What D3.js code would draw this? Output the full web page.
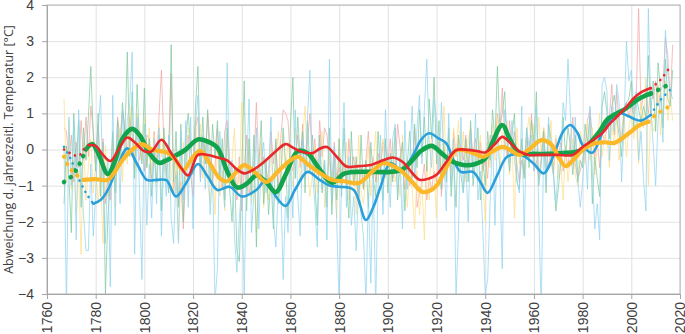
<!DOCTYPE html>
<html>
<head>
<meta charset="utf-8">
<script src="https://cdn.jsdelivr.net/npm/d3@7"></script>
<style>
body { margin: 0; background: #fff; }
svg { display: block; font-family: 'Open Sans', sans-serif; }
</style>
</head>
<body>
<svg id="chart" width="685" height="334"></svg>
<script>
'use strict'

// yearly anomalies, first value = 1767
const firstYear = 1767

const spring = [
	-1.5, 0.1, -0.8,
	-2.3, 1.0, -0.5, 0.8, -1.6, 0.6, -0.3, 0.9, 2.3, 0.4,
	-0.6, 1.0, -1.3, 0.2, -4.0, -1.9, -0.9, 0.5, -1.2, 0.8,
	-0.3, 1.3, 0.4, 2.7, -0.2, 1.6, -0.8, 1.8, 0.2, -0.4,
	1.7, -0.5, 0.3, -1.3, -0.1, -0.9, 0.4, -1.7, 0.6, -0.6,
	-1.2, 2.9, -0.9, 0.5, -1.6, 0.7, -2.0, 0.3, 1.0, 0.1,
	-0.7, 1.2, 2.3, -0.5, 0.9, -0.4, 1.1, -0.9, 0.7, -0.2,
	0.8, -0.8, 0.3, -1.4, 0.6, -1.1, -2.0, -0.5, -2.8, -3.1,
	-0.6, 1.9, -1.7, 0.3, -1.3, 0.4, -2.7, -0.5, 0.8, -1.5,
	-0.3, -1.8, -0.8, -2.2, 0.3, -1.5, -0.9, 0.6, -0.4, -1.9,
	0.7, 2.0, -0.8, 0.9, -0.3, 0.5, -1.2, 0.8, -0.6, 0.4,
	-0.9, -2.1, 0.4, -1.2, -0.3, -1.6, 0.6, -1.8, -0.2, -1.4,
	0.3, -1.3, 0.6, -0.9, -1.9, 0.5, -1.0, -0.2, -1.5, 0.4,
	-1.1, -0.3, -1.6, 0.2, -0.8, -1.3, 0.5, -0.6, -1.4, 0.3,
	-1.2, -0.1, -0.9, 0.6, -1.4, -0.3, 0.2, -1.7, -0.4, 0.5,
	-0.8, 0.7, -0.5, 1.1, -0.2, 0.9, -0.6, 1.4, 0.3, 2.0,
	-0.4, 0.8, -1.1, 0.2, -0.9, 0.6, -1.3, -0.2, -1.6, 0.4,
	-0.7, -1.2, 0.3, -0.9, 0.8, -1.0, -0.3, 0.6, -1.4, -0.2,
	-1.0, 0.5, -0.3, 1.1, 0.2, 2.3, 0.6, 1.0, 1.6, 0.1,
	-0.6, 0.4, 1.0, -0.9, -1.1, 0.3, -0.8, 0.6, -0.5, 0.8,
	0.2, 1.6, -1.0, -0.4, 0.5, -1.2, 0.7, 0.3, -0.6, -1.7,
	-1.1, -0.4, 0.9, -0.2, 0.6, 0.1, -0.7, 0.4, -0.9, -0.3,
	-0.5, 0.7, 0.2, 0.9, -1.5, -0.2, -0.8, -1.3, 1.2, 1.6,
	1.0, 0.3, 1.2, 1.5, 0.9, 0.4, -0.2, 1.1, 1.3, 1.4,
	1.9, 0.6, 1.5, 1.1, 0.8, 1.2, 0.9, 2.6, 1.0, 1.9,
	0.5, 2.4, 1.7, 0.6, 2.5, 1.4, 1.2, 2.2
]

const summer = [
	0.6, 0.5, -0.3,
	0.4, -0.9, 0.2, -0.5, 0.8, -0.3, 0.9, -0.2, 1.2, 0.5,
	-0.4, 0.7, -0.9, 0.3, -1.5, -0.8, -1.4, 0.2, -0.6, 0.9,
	0.3, 1.1, 0.6, -0.2, 0.9, 0.4, -0.5, 0.8, -0.3, 0.2,
	-0.6, 0.4, 0.3, -0.8, 0.5, -0.4, 0.9, 2.2, 0.1, -0.7,
	0.2, 2.1, -1.2, -0.6, -1.5, -0.9, -2.2, -0.5, 0.4, -0.7,
	-1.3, 0.6, 0.9, -0.8, 0.3, -0.4, 1.0, 0.2, -0.9, -0.5,
	0.6, -0.7, -1.1, 0.5, 0.8, -0.3, -1.0, -0.6, -1.4, -0.2,
	-1.7, -0.5, 0.4, -1.2, -0.9, -0.3, 1.3, -0.4, -0.8, -0.2,
	-0.6, -1.0, 0.5, -0.4, 0.2, -1.1, 0.3, 1.1, 1.0, 0.8,
	-0.3, -0.6, -0.2, 0.4, -0.5, 0.7, -0.8, 0.2, 1.0, -0.4,
	0.3, -0.7, 0.8, -0.2, 0.6, 0.4, -0.3, -0.9, 0.2, -0.8,
	-0.5, -0.9, -0.4, -1.0, 0.3, -0.6, -0.2, -0.9, -1.3, -0.5,
	-1.1, -0.3, 0.5, -0.7, -0.2, -0.9, -0.1, -0.6, 0.2, 0.1,
	-0.4, 0.3, -0.8, -0.6, 0.7, 0.1, -0.5, -1.1, -0.3, -1.0,
	-0.5, 0.6, -1.6, -1.2, -0.9, -0.4, -1.4, -0.8, -1.1, -0.6,
	-0.9, 0.2, -1.3, -0.4, -0.7, -0.1, -0.6, 0.5, -0.2, 0.3,
	0.1, -0.3, 0.4, -0.5, 0.6, -0.2, 0.3, -0.4, 0.2, -0.6,
	-0.3, -0.8, 0.4, 0.1, 0.2, 1.0, 0.5, 1.7, 0.3, -0.2,
	0.8, -0.1, 0.5, -0.4, -0.9, -0.3, -0.7, 0.4, -0.2, 1.0,
	-0.6, -0.3, -0.8, -0.2, 0.6, -0.5, -0.4, -0.1, -0.7, 0.3,
	-0.2, 0.2, -0.6, -0.1, -0.5, 0.3, 0.9, -0.4, -0.8, -0.6,
	-0.3, 0.1, 0.8, 1.1, 0.4, -0.2, 0.3, -0.5, 0.5, 0.2,
	0.6, 0.9, 1.8, 0.4, 1.6, 0.7, 0.2, 1.1, 1.3, 0.9,
	1.2, 1.0, 1.4, 3.9, 1.1, 1.5, 1.6, 1.0, 1.7, 1.4,
	1.9, 1.2, 1.6, 1.8, 3.1, 2.6, 1.3, 2.9
]

const autumn = [
	1.4, -0.9, 0.8,
	-1.1, -0.3, -1.8, -0.6, -2.9, 0.2, -1.4, -0.5, 0.3, -1.2,
	-0.4, -1.5, -0.7, -2.6, 0.1, -1.3, -0.8, 0.4, -1.6, -0.2,
	0.6, -0.9, 0.5, -0.4, 1.2, 0.3, -0.6, 1.0, 0.4, -0.3,
	0.9, -0.5, 0.6, -0.7, 0.4, -1.0, 0.7, -0.2, 0.5, -0.8,
	0.3, -0.6, -1.2, -0.3, -2.5, -0.8, 0.2, -0.9, 0.6, 0.1,
	-0.6, 0.9, -0.2, 0.7, -0.8, 0.3, -0.9, -1.5, -0.4, -1.8,
	0.2, -1.3, -0.6, -1.7, 0.4, -1.1, -0.3, 0.6, -1.2, -0.9,
	1.3, -0.6, -1.1, 0.3, -1.5, -0.5, -2.3, -0.9, 0.2, -1.6,
	-0.7, -1.4, 0.1, -0.9, -0.3, 0.5, -0.8, 0.4, -0.6, 0.2,
	-0.4, -1.0, 0.6, -0.3, -0.9, 0.3, 1.2, -0.5, -1.3, -0.7,
	0.1, -1.2, -0.4, 0.5, -1.6, -0.8, -0.2, -1.5, -0.6, -1.9,
	0.3, -1.1, -0.7, 0.2, -1.4, -1.0, -0.5, -1.8, 0.4, -1.2,
	-1.5, -0.6, 0.1, -1.3, -0.4, 0.5, -0.9, -0.2, 0.3, -0.8,
	-0.3, -1.0, 0.2, -0.9, -0.5, -1.3, 0.4, -0.7, -1.6, -0.4,
	-1.1, -2.2, -0.6, -1.8, -0.9, -2.5, -0.3, -1.4, 0.5, -0.7,
	-1.9, 0.3, -0.8, 1.2, -0.5, 0.4, -1.0, 0.6, -0.2, 0.8,
	-0.4, 0.5, -0.9, 0.3, 0.6, -0.6, 0.1, -0.3, 0.4, -0.8,
	-2.0, 0.2, -0.5, 0.7, -0.3, 0.9, -0.6, 0.5, 0.1, 0.8,
	-0.7, 0.3, -1.9, 0.6, -0.4, 0.2, -0.8, 0.4, 0.9, 0.1,
	0.7, -0.3, 0.9, -0.2, 0.6, 0.3, -0.1, 0.8, -0.6, 0.4,
	-0.8, -0.3, -1.4, 0.1, -0.9, -0.2, 0.3, -0.7, -1.0, 0.5,
	0.2, -0.4, 0.8, -0.3, 0.6, -0.7, 0.1, 1.0, -0.2, 0.4,
	0.3, -0.5, 0.7, 0.1, 0.9, -0.3, 0.5, 1.1, -0.2, 0.6,
	1.0, 0.3, 0.8, -0.4, 1.3, 0.6, 2.0, -1.0, 1.1, 0.5,
	0.7, 1.8, 0.4, 1.2, 1.9, 0.8, 1.5, 0.8
]

const winter = [
	0.1, -4.4, 0.9,
	-1.0, 0.8, -2.5, 1.1, -0.6, -1.8, -2.8, -2.8, -0.4, -2.4,
	-1.2, 0.5, 1.5, -0.9, -2.6, -0.3, -3.8, 1.5, -2.1, 0.6,
	-1.5, 1.1, -0.3, 0.8, 1.3, 2.7, -2.9, 0.9, -1.2, -3.6,
	0.7, -2.1, -0.4, -1.9, 0.3, -1.5, 0.6, -2.4, -0.2, -1.3,
	0.4, -1.9, -2.6, -0.7, -2.6, 0.5, -1.4, 0.8, -1.6, 0.9,
	-2.2, 0.7, 1.5, -0.9, 0.4, -1.1, 0.2, -1.8, -0.6, -4.2,
	-3.3, 0.5, -0.8, -1.6, 2.4, -1.0, -0.3, -2.4, -3.4, -1.9,
	-1.0, -4.0, -0.5, 1.4, -2.3, -1.2, 0.6, -2.2, -0.3, 0.2,
	-1.2, -0.6, 0.9, -1.9, -2.7, -1.1, -0.8, -3.6, -1.3, -2.3,
	-0.4, -1.9, 1.1, -1.3, -2.4, 0.3, -0.8, 0.9, 2.2, -0.6,
	-1.5, -2.7, 0.2, -1.1, -0.3, -2.5, 2.5, -1.4, 0.1, -2.0,
	-4.3, -0.7, 1.3, -1.6, -0.2, -2.1, -1.3, -2.8, -0.9, -1.8,
	-2.4, -4.2, -1.2, -3.7, -0.6, -4.4, -0.9, 0.4, -1.8, 1.1,
	-0.5, -1.6, 0.3, 0.7, -1.3, -0.2, -2.2, 0.8, -1.1, -0.3,
	1.2, -0.8, 0.6, 1.5, -0.4, 1.1, 2.5, 0.2, -0.5, 1.4,
	0.8, -0.7, 1.3, -0.2, -1.7, 1.0, -1.0, 0.3, -4.1, -2.3,
	0.9, -1.2, -0.3, -2.0, 0.5, -0.8, 1.0, -1.4, -0.6, -2.2,
	-4.0, -3.6, -1.5, 0.4, -2.1, 0.6, -0.7, -3.3, 1.1, 0.5,
	-0.4, 0.8, -0.3, -0.8, -1.2, 1.2, -2.4, 0.6, 0.1, 0.4,
	-0.6, 1.2, -1.7, -4.5, 0.3, -1.0, 0.9, -0.3, -0.7, -1.5,
	-0.5, -0.2, 1.3, 0.8, 2.5, 1.0, -0.4, 0.9, -0.8, -1.6,
	-0.9, 0.2, -1.1, 1.2, -0.6, -2.2, -1.5, -2.5, 1.8, 2.0,
	1.6, -0.3, 1.2, 0.5, 1.8, 1.3, -0.9, 0.6, 3.0, 1.9,
	2.2, 1.1, 1.6, -0.3, 0.5, -0.8, -1.7, 3.9, 1.2, 0.1,
	-1.0, 0.8, 1.5, 0.2, 3.3, 2.1, 1.6, 1.4
]

// smoothed curves [year, value]
const springSmooth = [
	[1767, -0.9], [1770, -0.75], [1773, -0.45], [1776, 0.0], [1778.5, 0.15], [1781, -0.1],
	[1785, -0.68], [1788, -0.3], [1791, 0.3], [1795, 0.57], [1798, 0.4], [1802, -0.1],
	[1806, -0.37], [1809, -0.3], [1812, -0.2], [1817, 0.0], [1822, 0.28], [1826, 0.22],
	[1830, 0.05], [1834, -0.6], [1838, -1.05], [1842, -0.95], [1846, -0.72], [1850, -0.9],
	[1854, -1.18], [1858, -0.7], [1863, -0.05], [1867, -0.1], [1872, -0.55], [1877, -0.92],
	[1882, -0.67], [1887, -0.62], [1893, -0.62], [1901, -0.62], [1906, -0.55], [1910, -0.3],
	[1914, -0.02], [1918, 0.1], [1922, -0.1], [1926, -0.32], [1931, -0.43], [1936, -0.4],
	[1940, -0.25], [1943, 0.2], [1947, 0.68], [1950, 0.3], [1954, -0.1], [1960, -0.12],
	[1966, -0.12], [1972, -0.1], [1977, -0.07], [1980, 0.0], [1983, 0.18], [1987, 0.5],
	[1990, 0.82], [1994, 1.0], [1997, 1.1], [2000, 1.25], [2003, 1.4], [2006, 1.5],
	[2008, 1.55], [2011, 1.65], [2014, 1.75], [2016, 1.8]
]

const summerSmooth = [
	[1767, 0.0], [1770, -0.12], [1773, -0.18], [1775, 0.0], [1777, 0.12], [1780, 0.1],
	[1783, -0.15], [1786, -0.32], [1789, -0.05], [1793, 0.33], [1796, 0.2], [1800, -0.05],
	[1803, -0.05], [1807, 0.27], [1811, -0.1], [1815, -0.5], [1818, -0.72], [1822, -0.15],
	[1826, -0.15], [1830, -0.22], [1834, -0.3], [1838, -0.55], [1841, -0.66], [1845, -0.55],
	[1849, -0.35], [1854, -0.05], [1858, 0.15], [1861, 0.05], [1864, -0.05], [1869, -0.1],
	[1872, 0.02], [1875, 0.07], [1879, -0.2], [1883, -0.47], [1888, -0.46], [1893, -0.43],
	[1898, -0.3], [1902, -0.22], [1906, -0.34], [1910, -0.65], [1913, -0.84], [1917, -0.8],
	[1920, -0.7], [1924, -0.35], [1928, -0.02], [1933, -0.01], [1937, -0.05], [1940, -0.08],
	[1944, 0.15], [1947, 0.35], [1950, 0.2], [1954, -0.05], [1958, -0.15], [1963, -0.15],
	[1970, -0.15], [1976, -0.15], [1980, 0.07], [1984, 0.25], [1988, 0.45], [1991, 0.7],
	[1994, 0.9], [1998, 1.18], [2001, 1.42], [2004, 1.58], [2008, 1.7], [2012, 1.93],
	[2016, 2.3]
]

const autumnSmooth = [
	[1767, -0.2], [1769, -0.48], [1772, -0.7], [1775, -0.84], [1780, -0.82], [1785, -0.84],
	[1788, -0.6], [1791, -0.29], [1795, 0.0], [1799, 0.15], [1803, 0.0], [1806, -0.04],
	[1810, -0.1], [1813, -0.3], [1816, -0.57], [1820, -0.2], [1823, -0.04], [1827, -0.4],
	[1831, -0.8], [1834, -0.88], [1838, -0.6], [1841, -0.43], [1845, -0.6], [1850, -0.9],
	[1855, -0.6], [1860, -0.3], [1863, -0.2], [1867, -0.4], [1871, -0.6], [1877, -0.84],
	[1882, -0.88], [1888, -0.93], [1893, -0.65], [1898, -0.38], [1902, -0.45], [1906, -0.62],
	[1910, -0.9], [1914, -1.17], [1917, -1.15], [1920, -1.0], [1924, -0.5], [1928, -0.02],
	[1932, -0.03], [1936, -0.12], [1939, -0.2], [1943, -0.05], [1947, 0.07], [1950, 0.0],
	[1954, -0.15], [1958, 0.0], [1963, 0.26], [1967, 0.15], [1970, -0.2], [1973, -0.46],
	[1976, -0.3], [1980, -0.01], [1985, 0.17], [1989, 0.2], [1993, 0.18], [1996, 0.3],
	[1999, 0.45], [2003, 0.66], [2007, 0.77], [2010, 0.96], [2015, 1.17]
]

const winterSmooth = [
	[1767, 0.07], [1770, -0.3], [1772, -0.66], [1776, -1.2], [1779, -1.5], [1782, -1.4],
	[1785, -1.12], [1789, -0.47], [1793, 0.03], [1797, -0.4], [1801, -0.84], [1805, -0.84],
	[1809, -0.85], [1813, -1.3], [1817, -0.95], [1822, -0.4], [1826, -0.75], [1830, -1.12],
	[1835, -1.03], [1840, -1.3], [1846, -1.12], [1850, -0.84], [1854, -1.3], [1858, -1.56],
	[1862, -1.1], [1867, -0.62], [1872, -0.84], [1876, -1.0], [1880, -1.03], [1886, -1.12],
	[1891, -1.95], [1894, -1.6], [1897, -1.03], [1901, -0.38], [1906, -0.57], [1910, -0.2],
	[1914, 0.3], [1917, 0.45], [1921, 0.3], [1924, 0.17], [1927, -0.3], [1930, -0.62],
	[1935, -0.62], [1938, -0.9], [1941, -1.2], [1945, -0.7], [1949, -0.2], [1955, -0.15],
	[1960, -0.4], [1964, -0.66], [1969, 0.0], [1972, 0.5], [1975, 0.68], [1978, 0.45],
	[1980, 0.12], [1984, -0.09], [1988, 0.45], [1992, 0.85], [1995, 1.0], [1998, 0.95],
	[2001, 0.85], [2004, 0.8], [2008, 0.96], [2012, 1.37], [2017, 1.72]
]

const xTicks = [1760, 1780, 1800, 1820, 1840, 1860, 1880, 1900, 1920, 1940, 1960, 1980, 2000, 2020]
const yTicks = [-4, -3, -2, -1, 0, 1, 2, 3, 4]
const yTitle = 'Abweichung d. jahreszeitl. Temperatur [°C]'

const seasons = [
	{name: 'summer', raw: summer, smooth: summerSmooth, solid: [1777, 2008], color: '#e8282b', thin: '#f3a3a3', width: 2.6},
	{name: 'autumn', raw: autumn, smooth: autumnSmooth, solid: [1775, 2007], color: '#fbb829', thin: '#fddd88', width: 4.2},
	{name: 'spring', raw: spring, smooth: springSmooth, solid: [1776, 2008], color: '#12a44c', thin: '#7cc99c', width: 4.6},
	{name: 'winter', raw: winter, smooth: winterSmooth, solid: [1779, 2008], color: '#2b9fd9', thin: '#8ed2f0', width: 2.6}
]
const thickOrder = ['winter', 'spring', 'autumn', 'summer']

const x = d3.scaleLinear().domain([1760, 2020]).range([47, 680])
const y = d3.scaleLinear().domain([-4, 4]).range([294, 5])

const svg = d3.select('#chart')

svg.append('defs').append('clipPath')
	.attr('id', 'plotClip')
	.append('rect')
	.attr('x', x(1760))
	.attr('y', y(4))
	.attr('width', x(2020) - x(1760))
	.attr('height', y(-4) - y(4))

// grid
svg.append('g')
	.attr('class', 'grid')
	.attr('transform', 'translate(' + x(1760) + ',0)')
	.call(d3.axisLeft(y).tickValues(yTicks).tickSize(-(x(2020) - x(1760))).tickFormat(''))
	.call(g => g.select('.domain').remove())
	.selectAll('line').attr('stroke', '#e2e2e2')

svg.append('g')
	.attr('class', 'grid')
	.attr('transform', 'translate(0,' + y(-4) + ')')
	.call(d3.axisBottom(x).tickValues(xTicks).tickSize(-(y(-4) - y(4))).tickFormat(''))
	.call(g => g.select('.domain').remove())
	.selectAll('line').attr('stroke', '#e2e2e2')

const plot = svg.append('g').attr('clip-path', 'url(#plotClip)')

// yearly values
let rawLine = d3.line()
	.x((d, i) => x(firstYear + i))
	.y(d => y(d))

seasons.forEach(function(s) {
	plot.append('path')
		.attr('class', 'raw ' + s.name)
		.attr('d', rawLine(s.raw))
		.attr('fill', 'none')
		.attr('stroke', s.thin)
		.attr('stroke-width', 0.9)
		.attr('stroke-opacity', 0.8)
})

// smoothed curves, dotted where the filter runs out of data
let smoothLine = d3.line()
	.x(d => x(d[0]))
	.y(d => y(d[1]))
	.curve(d3.curveCatmullRom.alpha(0.5))

thickOrder.forEach(function(name) {
	let s = seasons.find(e => e.name === name)
	let head = s.smooth.filter(d => d[0] <= s.solid[0])
	let body = s.smooth.filter(d => d[0] >= s.solid[0] && d[0] <= s.solid[1])
	let tail = s.smooth.filter(d => d[0] >= s.solid[1])
	;[head, tail].forEach(function(part) {
		plot.append('path')
			.attr('d', smoothLine(part))
			.attr('fill', 'none')
			.attr('stroke', s.color)
			.attr('stroke-width', s.width)
			.attr('stroke-linecap', 'round')
			.attr('stroke-dasharray', '0.1,' + (s.width + 3.5))
	})
	plot.append('path')
		.attr('d', smoothLine(body))
		.attr('fill', 'none')
		.attr('stroke', s.color)
		.attr('stroke-width', s.width)
		.attr('stroke-linejoin', 'round')
		.attr('stroke-linecap', 'round')
})

// frame
svg.append('rect')
	.attr('x', x(1760))
	.attr('y', y(4))
	.attr('width', x(2020) - x(1760))
	.attr('height', y(-4) - y(4))
	.attr('fill', 'none')
	.attr('stroke', '#b3b3b3')

// axes
let yAxis = svg.append('g')
	.attr('transform', 'translate(' + x(1760) + ',0)')
	.call(d3.axisLeft(y).tickValues(yTicks).tickSize(5).tickPadding(8).tickSizeOuter(0))
yAxis.select('.domain').attr('stroke', '#a6a6a6')
yAxis.selectAll('line').attr('stroke', '#a6a6a6')
yAxis.selectAll('text')
	.attr('fill', '#404040')
	.style('font-size', '14px')

let xAxis = svg.append('g')
	.attr('transform', 'translate(0,' + y(-4) + ')')
	.call(d3.axisBottom(x).tickValues(xTicks).tickSize(5).tickFormat(d3.format('d')).tickSizeOuter(0))
xAxis.select('.domain').attr('stroke', '#a6a6a6')
xAxis.selectAll('line').attr('stroke', '#a6a6a6')
xAxis.selectAll('text')
	.attr('transform', 'rotate(-90)')
	.attr('x', -8)
	.attr('y', 0)
	.attr('dy', '0.35em')
	.style('text-anchor', 'end')
	.style('font-size', '14px')
	.attr('fill', '#404040')

svg.append('text')
	.attr('transform', 'translate(13,' + y(0) + ') rotate(-90)')
	.attr('text-anchor', 'middle')
	.attr('fill', '#404040')
	.style('font-size', '12.5px')
	.text(yTitle)
</script>
</body>
</html>
